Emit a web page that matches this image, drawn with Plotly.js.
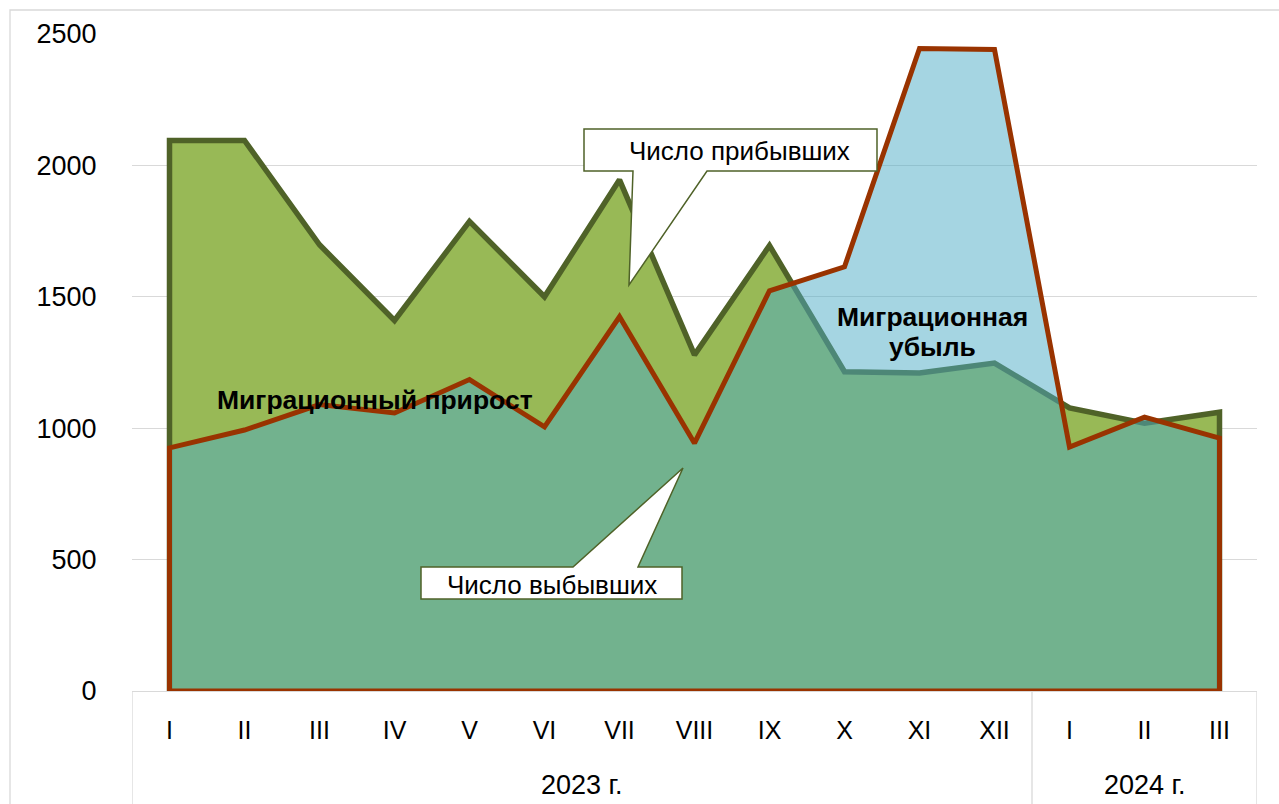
<!DOCTYPE html>
<html>
<head>
<meta charset="utf-8">
<script src="https://cdn.plot.ly/plotly-3.0.1.min.js"></script>
<style>
  html, body { margin: 0; padding: 0; background: #fff; }
  #chart { width: 1279px; height: 804px; }
</style>
</head>
<body>
<div id="chart"></div>
<script>
// ---- data ----
const months = ['I','II','III','IV','V','VI','VII','VIII','IX','X','XI','XII','I','II','III'];
const years = ['2023 г.', '2024 г.'];
const monthsPerYear = [12, 3];
const arrivals   = [2095, 2095, 1698, 1410, 1787, 1500, 1945, 1279, 1695, 1215, 1210, 1248, 1077, 1019, 1061];
const departures = [925, 993, 1090, 1058, 1185, 1005, 1424, 943, 1523, 1614, 2445, 2441, 928, 1042, 962];
const labelArrivals = 'Число прибывших';
const labelDepartures = 'Число выбывших';
const labelGain = 'Миграционный прирост';
const labelLoss = ['Миграционная', 'убыль'];

// ---- layout helpers (pixel -> paper) ----
const W = 1279, H = 804;
const M = {l: 132, r: 22, t: 34, b: 113};
const PW = W - M.l - M.r, PH = H - M.t - M.b;
const px = x => (x - M.l) / PW;
const py = y => (H - M.b - y) / PH;
const pathFrom = pts => 'M ' + pts.map(p => px(p[0]).toFixed(5) + ',' + py(p[1]).toFixed(5)).join(' L ') + ' Z';

const FONT = 'Liberation Sans, Arial, sans-serif';
const idx = months.map((_, i) => i);
const last = idx.length - 1;

const GREEN = '#98B956';
const OLIVE = '#4F6228';
const BLUE = 'rgba(75,172,198,0.5)';
const RED = '#993300';

const traces = [
  {x: idx, y: arrivals, type: 'scatter', mode: 'lines', fill: 'tozeroy',
   fillcolor: GREEN, line: {width: 0, color: GREEN}, hoverinfo: 'skip', showlegend: false},
  {x: [0].concat(idx, [last]), y: [0].concat(arrivals, [0]), type: 'scatter', mode: 'lines',
   line: {width: 5.5, color: OLIVE}, hoverinfo: 'skip', showlegend: false},
  {x: idx, y: departures, type: 'scatter', mode: 'lines', fill: 'tozeroy',
   fillcolor: BLUE, line: {width: 0, color: BLUE}, hoverinfo: 'skip', showlegend: false},
  {x: [0].concat(idx, [last, 0]), y: [0].concat(departures, [0, 0]), type: 'scatter', mode: 'lines',
   line: {width: 5, color: RED}, hoverinfo: 'skip', showlegend: false}
];

// year group labels and dividers
const annotations = [];
const shapes = [];
let start = 0;
const dividerX = [];
years.forEach((yr, k) => {
  const end = start + monthsPerYear[k] - 1;
  dividerX.push(start - 0.5);
  annotations.push({xref: 'x', yref: 'paper', x: (start + end) / 2, y: py(785),
    text: yr, showarrow: false, xanchor: 'center', yanchor: 'middle',
    font: {family: FONT, size: 27, color: '#000'}});
  start = end + 1;
});
dividerX.push(start - 0.5);
dividerX.forEach(xv => {
  shapes.push({type: 'line', xref: 'x', yref: 'paper', x0: xv, x1: xv, y0: 0, y1: py(812),
    line: {color: '#D9D9D9', width: 1.3}});
});

// outer chart border
shapes.push({type: 'rect', xref: 'paper', yref: 'paper', x0: px(10), x1: px(1300), y0: py(830), y1: py(10),
  line: {color: '#D9D9D9', width: 1.3}, fillcolor: 'rgba(0,0,0,0)', layer: 'below'});

// callouts
shapes.push({type: 'path', xref: 'paper', yref: 'paper',
  path: pathFrom([[584,129],[877,129],[877,171],[707,171],[629,285],[633,171],[584,171]]),
  fillcolor: '#fff', line: {color: OLIVE, width: 1.5}});
shapes.push({type: 'path', xref: 'paper', yref: 'paper',
  path: pathFrom([[421,567],[573,567],[683,468],[638,567],[682,567],[682,599],[421,599]]),
  fillcolor: '#fff', line: {color: OLIVE, width: 1.5}});

annotations.push({xref: 'paper', yref: 'paper', x: px(739), y: py(151), text: labelArrivals,
  showarrow: false, xanchor: 'center', yanchor: 'middle', font: {family: FONT, size: 26, color: '#000'}});
annotations.push({xref: 'paper', yref: 'paper', x: px(552), y: py(585), text: labelDepartures,
  showarrow: false, xanchor: 'center', yanchor: 'middle', font: {family: FONT, size: 26, color: '#000'}});
annotations.push({xref: 'paper', yref: 'paper', x: px(375), y: py(400), text: '<b>' + labelGain + '</b>',
  showarrow: false, xanchor: 'center', yanchor: 'middle', font: {family: FONT, size: 26.5, color: '#000'}});
annotations.push({xref: 'paper', yref: 'paper', x: px(932), y: py(317), text: '<b>' + labelLoss[0] + '</b>',
  showarrow: false, xanchor: 'center', yanchor: 'middle', font: {family: FONT, size: 26.5, color: '#000'}});
annotations.push({xref: 'paper', yref: 'paper', x: px(932), y: py(347), text: '<b>' + labelLoss[1] + '</b>',
  showarrow: false, xanchor: 'center', yanchor: 'middle', font: {family: FONT, size: 26.5, color: '#000'}});

const layout = {
  width: W, height: H,
  margin: M,
  paper_bgcolor: '#fff', plot_bgcolor: '#fff',
  showlegend: false,
  xaxis: {
    range: [-0.5, last + 0.5], tickmode: 'array', tickvals: idx, ticktext: months,
    showgrid: false, zeroline: false, showline: true, linecolor: '#D9D9D9', linewidth: 1.3,
    ticks: 'outside', ticklen: 17, tickcolor: 'rgba(0,0,0,0)',
    tickfont: {family: FONT, size: 25, color: '#000'}, fixedrange: true
  },
  yaxis: {
    range: [0, 2500], tickmode: 'linear', tick0: 0, dtick: 500,
    showgrid: true, gridcolor: '#D9D9D9', gridwidth: 1.3, zeroline: false, showline: false,
    ticks: 'outside', ticklen: 29, tickcolor: 'rgba(0,0,0,0)',
    tickfont: {family: FONT, size: 27, color: '#000'}, fixedrange: true
  },
  shapes: shapes,
  annotations: annotations
};

Plotly.newPlot('chart', traces, layout, {displayModeBar: false, staticPlot: true});
</script>
</body>
</html>
